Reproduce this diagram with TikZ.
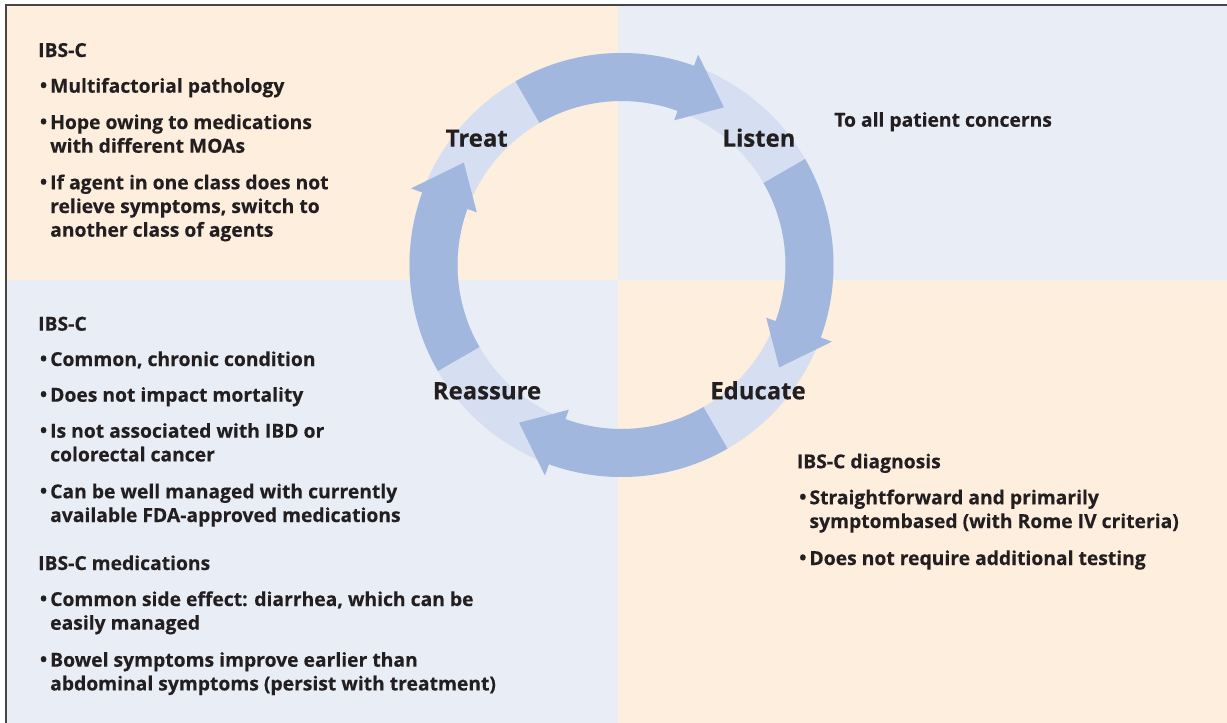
\documentclass[tikz,border=0pt]{standalone}
\usepackage{fontspec}
\setmainfont{Open Sans}[BoldFeatures={FakeBold=0.35}]
\definecolor{peach}{RGB}{253,238,222}
\definecolor{lightblue}{RGB}{233,237,246}
\definecolor{ringlight}{RGB}{213,223,241}
\definecolor{arrowblue}{RGB}{162,183,221}
\definecolor{txt}{RGB}{35,31,32}
\definecolor{bordergray}{RGB}{70,70,70}
\newcommand\bodyfont{\fontsize{19.3}{23.7}\selectfont\bfseries}
\newcommand\blk[1]{\parbox[t]{600pt}{\raggedright #1}}
\newcommand\bul[1]{\parbox[t]{600pt}{\raggedright\leavevmode\llap{\raisebox{0.5pt}{•}\hspace{3pt}}#1}}
\begin{document}
\begin{tikzpicture}[x=1pt,y=-1pt,
  txtnode/.style={anchor=base west,inner sep=0pt,text=txt,font=\bodyfont},
  cyclelabel/.style={anchor=base,inner sep=0pt,text=txt,font=\fontsize{23.9}{28}\selectfont\bfseries},
  arrowshape/.style={fill=arrowblue}]
\useasboundingbox (0,0) rectangle (1227,723);
% quadrants
\fill[peach] (6,5) rectangle (618,280);
\fill[lightblue] (618,5) rectangle (1227,280);
\fill[lightblue] (6,280) rectangle (618,723);
\fill[peach] (618,280) rectangle (1227,723);
\draw[bordergray,line width=1.2pt] (6,723) -- (6,5) -- (1227,5);
% ring
\begin{scope}[shift={(621.5,265)}]
  \fill[ringlight,even odd rule] (0,0) circle[radius=212] (0,0) circle[radius=164];
  \foreach \k in {0,1,2,3}{
    \pgfmathsetmacro\ta{-120+90*\k}
    \pgfmathsetmacro\tb{-70+90*\k}
    \pgfmathsetmacro\tc{-57+90*\k}
    \fill[arrowshape] (\ta:212) arc[start angle=\ta,end angle=\tb,radius=212]
      -- (\tb:224) -- (\tc:188) -- (\tb:154) -- (\tb:164)
      arc[start angle=\tb,end angle=\ta,radius=164] -- cycle;
  }
\end{scope}
\node[cyclelabel] (treat) at (476.7,146.7) {Treat};
\node[cyclelabel] (listen) at (759,146.7) {Listen};
\node[cyclelabel] (reassure) at (487,399.3) {Reassure};
\node[cyclelabel] (educate) at (758,399.3) {Educate};
% top left
\node[txtnode] (tlh) at (38,57) {\blk{IBS-C}};
\node[txtnode] (tl1) at (50,92.7) {\bul{Multifactorial pathology}};
\node[txtnode] (tl2) at (50,129) {\bul{Hope owing to medications\\with different MOAs}};
\node[txtnode] (tl3) at (50,189.3) {\bul{If agent in one class does not\\relieve symptoms, switch to\\another class of agents}};
% top right
\node[txtnode] (tr1) at (834,126.7) {\blk{To all patient concerns}};
% bottom left
\node[txtnode] (blh) at (38,330.7) {\blk{IBS-C}};
\node[txtnode] (bl1) at (50,366) {\bul{Common, chronic condition}};
\node[txtnode] (bl2) at (50,401.7) {\bul{Does not impact mortality}};
\node[txtnode] (bl3) at (50,437.7) {\bul{Is not associated with IBD or\\colorectal cancer}};
\node[txtnode] (bl4) at (50,498.3) {\bul{Can be well managed with currently\\available FDA-approved medications}};
\node[txtnode] (blm) at (38,570) {\blk{IBS-C medications}};
\node[txtnode] (bl5) at (50,606) {\bul{Common side effect: diarrhea, which can be\\easily managed}};
\node[txtnode] (bl6) at (50,666.7) {\bul{Bowel symptoms improve earlier than\\abdominal symptoms (persist with treatment)}};
% bottom right
\node[txtnode] (brh) at (796.7,468.3) {\blk{IBS-C diagnosis}};
\node[txtnode] (br1) at (809.3,504.3) {\bul{Straightforward and primarily\\symptombased (with Rome IV criteria)}};
\node[txtnode] (br2) at (809.3,565) {\bul{Does not require additional testing}};
\end{tikzpicture}
\end{document}
